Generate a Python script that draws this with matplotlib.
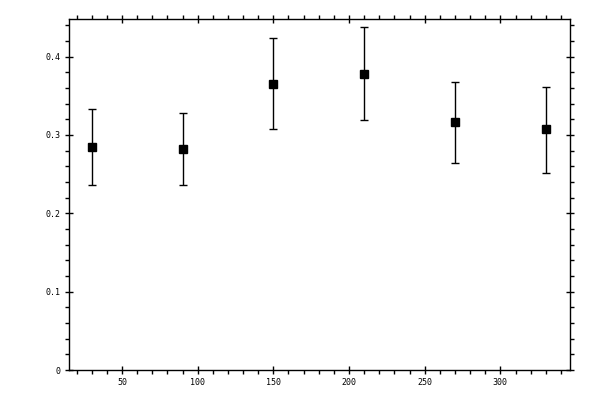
import matplotlib
matplotlib.use("Agg")
import matplotlib.pyplot as plt
from matplotlib.ticker import MultipleLocator, FuncFormatter

x_vals = [30, 90, 150, 210, 270, 330]
y_vals = [0.284, 0.2815, 0.365, 0.378, 0.316, 0.3073]
y_upper = [0.333, 0.328, 0.424, 0.438, 0.3675, 0.361]
y_lower = [0.236, 0.236, 0.3077, 0.319, 0.2637, 0.252]

err_lo = [y - lo for y, lo in zip(y_vals, y_lower)]
err_hi = [hi - y for y, hi in zip(y_vals, y_upper)]

fig = plt.figure(figsize=(6, 4), dpi=100)
ax = fig.add_axes([69/600, 30/400, (570-69)/600, (370-19)/400])

ax.errorbar(x_vals, y_vals, yerr=[err_lo, err_hi], fmt='s', color='black',
            markersize=5.2, ecolor='black', elinewidth=1.0, capsize=2.6,
            capthick=1.0)

ax.set_xlim(15, 346)
ax.set_ylim(0, 0.448)

ax.xaxis.set_major_locator(MultipleLocator(50))
ax.xaxis.set_minor_locator(MultipleLocator(10))
ax.yaxis.set_major_locator(MultipleLocator(0.1))
ax.yaxis.set_minor_locator(MultipleLocator(0.02))

def yfmt(v, pos):
    if abs(v) < 1e-9:
        return "0"
    return "%.1f" % v

ax.yaxis.set_major_formatter(FuncFormatter(yfmt))

for s in ax.spines.values():
    s.set_linewidth(1.0)

ax.tick_params(which='major', direction='inout', length=6, width=1.0,
               top=True, right=True, labelsize=6, pad=3)
ax.tick_params(which='minor', direction='out', length=3, width=1.0,
               top=True, right=True)
for lab in ax.get_xticklabels() + ax.get_yticklabels():
    lab.set_family('DejaVu Sans Mono')

fig.savefig("out.png", dpi=100)
